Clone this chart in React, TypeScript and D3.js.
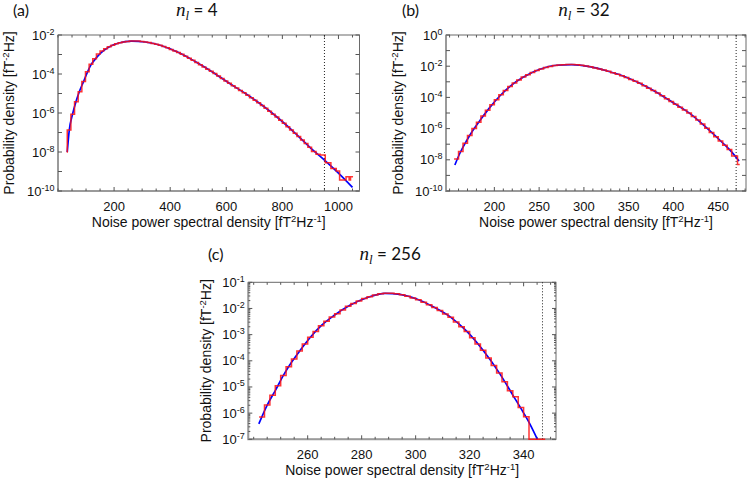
import React, { useEffect, useRef } from "react";
import * as d3 from "d3";

// ---- panel (a), n_l = 4 ----
// theory curve: x in fT^2/Hz, log10 of probability density
const curveA_x = [33, 40, 52, 64, 76, 91, 105, 118, 135, 153, 180, 216, 263, 311, 370, 430, 489, 549, 608, 667, 727, 786, 846, 905, 953, 1000, 1050];
const curveA_log = [-8.0, -6.9, -6.05, -5.42, -4.91, -4.39, -3.9, -3.52, -3.2, -2.92, -2.63, -2.41, -2.31, -2.36, -2.55, -2.9, -3.36, -3.88, -4.45, -4.99, -5.59, -6.27, -7.04, -7.85, -8.45, -9.08, -9.81];
// simulated histogram: bin edges and log10 density per bin
const histA_edges = [31, 33, 46, 59, 72, 85, 98, 111, 124, 137, 150, 163, 176, 189,
  202, 215, 228, 241, 254, 267, 280, 293, 306, 319, 332, 345, 358, 371, 384, 397, 410, 423, 436, 449,
  462, 475, 488, 501, 514, 527, 540, 553, 566, 579, 592, 605, 618, 631, 644, 657, 670, 683, 696, 709,
  722, 735, 748, 761, 774, 787, 800, 813, 826, 839, 852, 865, 878, 891, 904,
  920, 935, 953, 973, 992, 1004, 1027, 1038, 1043, 1052];
const histA_log = [-8.0, -6.87, -6.07, -5.42, -4.91, -4.39, -3.88, -3.5, -3.22, -2.98, -2.82, -2.7, -2.6, -2.52,
  -2.45, -2.395, -2.36, -2.33, -2.31, -2.305, -2.31, -2.33, -2.36, -2.39, -2.43, -2.48, -2.53, -2.59, -2.66, -2.74, -2.82, -2.9, -2.99, -3.09,
  -3.19, -3.3, -3.41, -3.52, -3.64, -3.75, -3.86, -3.98, -4.1, -4.23, -4.36, -4.48, -4.6, -4.72, -4.84, -4.96, -5.09, -5.22, -5.35, -5.48,
  -5.61, -5.76, -5.91, -6.06, -6.21, -6.37, -6.53, -6.7, -6.87, -7.04, -7.21, -7.39, -7.57, -7.75,
  -7.97, -8.12, -8.15, -8.55, -8.85, -8.98, -9.44, -9.27, -9.44, -9.27];
const xTicksA = [200, 400, 600, 800, 1000];
const yLabelsA = [-10, -8, -6, -4, -2];
const thresholdA = 950;

// ---- panel (b), n_l = 32 ----
const curveB_x = [155.9, 161.5, 169, 176.3, 185.7, 195, 206.1, 219.2, 232.1, 250.8, 269.4, 286.2, 306.6, 325.2, 343.8, 362.4, 381, 399.6, 418.2, 436.8, 455.4, 464.7, 473.2];
const curveB_log = [-8.33, -7.58, -6.78, -6.09, -5.34, -4.64, -3.91, -3.21, -2.71, -2.2, -1.94, -1.9, -2.03, -2.29, -2.63, -3.1, -3.67, -4.34, -5.02, -5.94, -6.94, -7.48, -8.08];
const histB_edges = [155, 160, 165, 170, 175, 180, 185, 190, 195, 200, 205, 210, 215, 220, 225, 230, 235, 240, 245, 250,
  255, 260, 265, 270, 275, 280, 285, 290, 295, 300, 305, 310, 315, 320, 325, 330, 335, 340, 345, 350,
  355, 360, 365, 370, 375, 380, 385, 390, 395, 400, 405, 410, 415, 420, 425, 430, 435, 440, 445, 450,
  455, 460, 465, 471.5, 474];
const histB_log = [-7.95, -7.47, -6.94, -6.45, -5.99, -5.6, -5.2, -4.83, -4.47, -4.15, -3.83, -3.56, -3.3, -3.07, -2.88, -2.7, -2.55, -2.41, -2.28, -2.18,
  -2.09, -2.02, -1.96, -1.92, -1.9, -1.89, -1.89, -1.91, -1.94, -1.99, -2.04, -2.11, -2.18, -2.25, -2.33, -2.42, -2.51, -2.61, -2.72, -2.85,
  -2.97, -3.1, -3.25, -3.41, -3.56, -3.72, -3.9, -4.08, -4.26, -4.44, -4.63, -4.81, -5.0, -5.22, -5.45, -5.71, -5.97, -6.25, -6.52, -6.79,
  -7.06, -7.34, -7.75, -8.3];
const xTicksB = [200, 250, 300, 350, 400, 450];
const yLabelsB = [-10, -8, -6, -4, -2, 0];
const thresholdB = 470;

// ---- panel (c), n_l = 256 ----
const curveC_x = [241.9, 245, 248.1, 251.1, 254.2, 257.3, 261, 265.3, 269.6, 275.8, 281.9, 288.7, 294.2, 300.4, 306.5, 312.7, 318.8, 324.9, 331.1, 336, 339.7, 342.2, 345.1];
const curveC_log = [-6.41, -5.69, -5.12, -4.54, -4.03, -3.59, -3.1, -2.63, -2.28, -1.87, -1.59, -1.42, -1.46, -1.64, -1.93, -2.31, -2.86, -3.59, -4.48, -5.31, -5.94, -6.39, -7.0];
const histC_edges = [242, 244, 246, 248, 250, 252, 254, 256, 258, 260, 262, 264, 266, 268, 270, 272, 274, 276, 278, 280,
  282, 284, 286, 288, 290, 292, 294, 296, 298, 300, 302, 304, 306, 308, 310, 312, 314, 316, 318, 320,
  322, 324, 326, 328, 330, 332, 334, 336, 338, 340, 342, 348];
// null = empty bin (drawn on the lower axis)
const histC_log = [-6.15, -5.69, -5.32, -4.95, -4.56, -4.23, -3.93, -3.63, -3.36, -3.1, -2.88, -2.66, -2.49, -2.33, -2.2, -2.06, -1.92, -1.81, -1.71, -1.62,
  -1.55, -1.49, -1.44, -1.42, -1.42, -1.44, -1.48, -1.53, -1.6, -1.67, -1.76, -1.86, -1.96, -2.08, -2.21, -2.34, -2.52, -2.7, -2.88, -3.12,
  -3.36, -3.6, -3.89, -4.18, -4.47, -4.8, -5.14, -5.37, -5.78, -6.14, null];
const xTicksC = [260, 280, 300, 320, 340];
const yLabelsC = [-7, -6, -5, -4, -3, -2, -1];
const thresholdC = 347;

const SANS = "'Liberation Sans', Arial, Helvetica, sans-serif";
const SERIF = "'Liberation Serif', 'DejaVu Serif', serif";
const TAGFONT = "Lato, 'Open Sans', sans-serif";

const panels = [
  {
    id: "a", tag: "(a)", nl: "4", left: 58, right: 359.5, top: 35, bottom: 191,
    xDomain: [0, 1075], yExp: [-10, -2], xTicks: xTicksA, xMinorStep: 50, yLabels: yLabelsA, logMinor: false,
    threshold: thresholdA, curveX: curveA_x, curveLog: curveA_log, histEdges: histA_edges, histLog: histA_log,
    tagX: 13, tagY: 16, yLabelGap: 44,
  },
  {
    id: "b", tag: "(b)", nl: "32", left: 446, right: 746, top: 35, bottom: 191,
    xDomain: [146, 481], yExp: [-10, 0], xTicks: xTicksB, xMinorStep: 10, yLabels: yLabelsB, logMinor: false,
    threshold: thresholdB, curveX: curveB_x, curveLog: curveB_log, histEdges: histB_edges, histLog: histB_log,
    tagX: 402, tagY: 16, yLabelGap: 43,
  },
  {
    id: "c", tag: "(c)", nl: "256", left: 248.3, right: 556, top: 282.3, bottom: 439.3,
    xDomain: [238, 352], yExp: [-7, -1], xTicks: xTicksC, xMinorStep: 5, yLabels: yLabelsC, logMinor: true,
    threshold: thresholdC, curveX: curveC_x, curveLog: curveC_log, histEdges: histC_edges, histLog: histC_log,
    tagX: 208, tagY: 260, yLabelGap: 37,
  },
];

function drawPanel(root, p) {
  const x = d3.scaleLinear().domain(p.xDomain).range([p.left, p.right]);
  const y = d3.scaleLog().domain([Math.pow(10, p.yExp[0]), Math.pow(10, p.yExp[1])]).range([p.bottom, p.top]);
  const g = root.append("g");

  // frame (drawn first so the red histogram can sit on the lower axis)
  g.append("rect")
    .attr("x", p.left).attr("y", p.top)
    .attr("width", p.right - p.left).attr("height", p.bottom - p.top)
    .attr("fill", "none").attr("stroke", "#6a6a6a").attr("stroke-width", 1);
  g.append("path")
    .attr("d", `M${p.left},${p.top}V${p.bottom}H${p.right}`)
    .attr("fill", "none").attr("stroke", "#9a9a9a").attr("stroke-width", 2);

  const ticks = g.append("g").attr("stroke", "#555").attr("stroke-width", 1);
  const addTick = (x1, y1, x2, y2) =>
    ticks.append("line").attr("x1", x1).attr("y1", y1).attr("x2", x2).attr("y2", y2);

  // x ticks, inward, top and bottom
  const minors = d3.range(Math.ceil(p.xDomain[0] / p.xMinorStep) * p.xMinorStep, p.xDomain[1], p.xMinorStep);
  minors.forEach((v) => {
    const len = p.xTicks.includes(v) ? 4 : 2.5;
    addTick(x(v), p.bottom, x(v), p.bottom - len);
    addTick(x(v), p.top, x(v), p.top + len);
  });

  // y ticks, every decade, plus log minors on (c)
  d3.range(p.yExp[0], p.yExp[1] + 1).forEach((e) => {
    const yy = y(Math.pow(10, e));
    addTick(p.left, yy, p.left + 4, yy);
    addTick(p.right, yy, p.right - 4, yy);
    if (p.logMinor && e < p.yExp[1]) {
      d3.range(2, 10).forEach((m) => {
        const ym = y(m * Math.pow(10, e));
        addTick(p.left, ym, p.left + 2, ym);
        addTick(p.right, ym, p.right - 2, ym);
      });
    }
  });

  // clip for the data lines
  const clipId = `clip-${p.id}`;
  g.append("clipPath").attr("id", clipId)
    .append("rect")
    .attr("x", p.left).attr("y", p.top - 1)
    .attr("width", p.right - p.left).attr("height", p.bottom - p.top + 2);

  // dotted threshold
  g.append("line")
    .attr("x1", x(p.threshold)).attr("x2", x(p.threshold))
    .attr("y1", p.top).attr("y2", p.bottom)
    .attr("stroke", "#222").attr("stroke-width", 1).attr("stroke-dasharray", "1,2");

  const plot = g.append("g").attr("clip-path", `url(#${clipId})`);

  // theory (blue)
  const line = d3.line()
    .x((d) => x(d[0]))
    .y((d) => y(Math.pow(10, d[1])))
    .curve(d3.curveMonotoneX);
  plot.append("path")
    .datum(d3.zip(p.curveX, p.curveLog))
    .attr("fill", "none").attr("stroke", "#0000ff").attr("stroke-width", 1.7)
    .attr("d", line);

  // histogram (red stairs)
  const stairs = p.histEdges.map((e, i) => [e, p.histLog[Math.min(i, p.histLog.length - 1)]]);
  const step = d3.line()
    .x((d) => x(d[0]))
    .y((d) => (d[1] == null ? p.bottom : y(Math.pow(10, d[1]))))
    .curve(d3.curveStepAfter);
  plot.append("path")
    .datum(stairs)
    .attr("fill", "none").attr("stroke", "#ff1010").attr("stroke-width", 1.5).attr("stroke-opacity", 0.85)
    .attr("d", step);

  // x tick labels
  g.append("g").selectAll("text")
    .data(p.xTicks)
    .join("text")
    .attr("x", (d) => x(d)).attr("y", p.bottom + 20)
    .attr("text-anchor", "middle")
    .style("font-family", SANS).style("font-size", "13px").attr("fill", "#111")
    .text((d) => d);

  // y tick labels 10^e
  const yl = g.append("g").selectAll("text")
    .data(p.yLabels)
    .join("text")
    .attr("x", p.left - 3.5).attr("y", (d) => y(Math.pow(10, d)) + 4.5)
    .attr("text-anchor", "end")
    .style("font-family", SANS).style("font-size", "13px").attr("fill", "#111");
  yl.append("tspan").text("10");
  yl.append("tspan").attr("dy", -5).style("font-size", "9px").text((d) => String(d));

  // axis titles
  const cx = (p.left + p.right) / 2;
  const cy = (p.top + p.bottom) / 2;
  const xt = g.append("text")
    .attr("x", cx).attr("y", p.bottom + 36)
    .attr("text-anchor", "middle")
    .style("font-family", SANS).style("font-size", "14px").attr("fill", "#111");
  xt.append("tspan").text("Noise power spectral density [fT");
  xt.append("tspan").attr("dy", -5).style("font-size", "9.5px").text("2");
  xt.append("tspan").attr("dy", 5).text("Hz");
  xt.append("tspan").attr("dy", -5).style("font-size", "9.5px").text("-1");
  xt.append("tspan").attr("dy", 5).text("]");

  const ytl = g.append("text")
    .attr("transform", `translate(${p.left - p.yLabelGap},${cy}) rotate(-90)`)
    .attr("text-anchor", "middle")
    .style("font-family", SANS).style("font-size", "14px").attr("fill", "#111");
  ytl.append("tspan").text("Probability density [fT");
  ytl.append("tspan").attr("dy", -5).style("font-size", "9.5px").text("-2");
  ytl.append("tspan").attr("dy", 5).text("Hz]");

  // panel tag and title
  g.append("text")
    .attr("x", p.tagX).attr("y", p.tagY)
    .style("font-family", TAGFONT).style("font-size", "16px").attr("fill", "#111")
    .text(p.tag);

  const title = g.append("text")
    .attr("x", cx - 12).attr("y", p.tagY)
    .attr("text-anchor", "middle").attr("fill", "#111");
  title.append("tspan")
    .style("font-family", SERIF).style("font-style", "italic").style("font-size", "19px")
    .text("n");
  title.append("tspan").attr("dy", 4)
    .style("font-family", SERIF).style("font-style", "italic").style("font-size", "13px")
    .text("l");
  title.append("tspan").attr("dy", -4)
    .style("font-family", TAGFONT).style("font-size", "17px")
    .text(` = ${p.nl}`);
}

export const NoiseFigure = () => {
  const ref = useRef<SVGSVGElement>(null);

  useEffect(() => {
    if (!ref.current) return;
    const svg = d3.select(ref.current);
    svg.selectAll("*").remove();
    svg.append("rect").attr("width", 750).attr("height", 480).attr("fill", "#fff");
    panels.forEach((p) => drawPanel(svg, p));
  }, []);

  return (
    <svg
      ref={ref}
      width={750}
      height={480}
      style={{ position: "absolute", left: 0, top: 0, display: "block" }}
    />
  );
};

export default function App() {
  return <NoiseFigure />;
}
